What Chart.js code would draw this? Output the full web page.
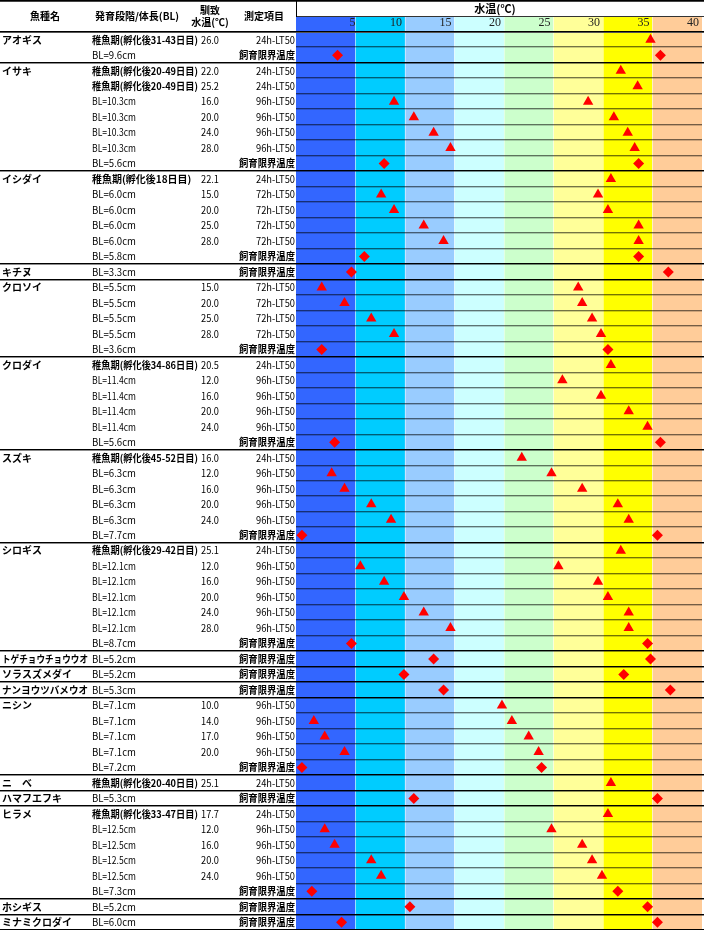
<!DOCTYPE html>
<html lang="ja">
<head>
<meta charset="utf-8">
<script src="https://cdn.jsdelivr.net/npm/chart.js@4.4.1/dist/chart.umd.min.js"></script>
<style>
  html, body { margin: 0; padding: 0; background: #fff; }
  #wrap { width: 704px; height: 930px; }
</style>
</head>
<body>
<div id="wrap"><canvas id="chart" width="704" height="930"></canvas></div>
<script>
// one entry per table row, top to bottom
const species = [
  'アオギス', '',
  'イサキ', '', '', '', '', '', '',
  'イシダイ', '', '', '', '', '',
  'キチヌ',
  'クロソイ', '', '', '', '',
  'クロダイ', '', '', '', '', '',
  'スズキ', '', '', '', '', '',
  'シロギス', '', '', '', '', '', '',
  'トゲチョウチョウウオ',
  'ソラスズメダイ',
  'ナンヨウツバメウオ',
  'ニシン', '', '', '', '',
  'ニ　ベ',
  'ハマフエフキ',
  'ヒラメ', '', '', '', '', '',
  'ホシギス',
  'ミナミクロダイ'
];

const stages = [
  '稚魚期(孵化後31-43日目)', 'BL=9.6cm',
  '稚魚期(孵化後20-49日目)', '稚魚期(孵化後20-49日目)', 'BL=10.3cm', 'BL=10.3cm', 'BL=10.3cm', 'BL=10.3cm', 'BL=5.6cm',
  '稚魚期(孵化後18日目)', 'BL=6.0cm', 'BL=6.0cm', 'BL=6.0cm', 'BL=6.0cm', 'BL=5.8cm',
  'BL=3.3cm',
  'BL=5.5cm', 'BL=5.5cm', 'BL=5.5cm', 'BL=5.5cm', 'BL=3.6cm',
  '稚魚期(孵化後34-86日目)', 'BL=11.4cm', 'BL=11.4cm', 'BL=11.4cm', 'BL=11.4cm', 'BL=5.6cm',
  '稚魚期(孵化後45-52日目)', 'BL=6.3cm', 'BL=6.3cm', 'BL=6.3cm', 'BL=6.3cm', 'BL=7.7cm',
  '稚魚期(孵化後29-42日目)', 'BL=12.1cm', 'BL=12.1cm', 'BL=12.1cm', 'BL=12.1cm', 'BL=12.1cm', 'BL=8.7cm',
  'BL=5.2cm',
  'BL=5.2cm',
  'BL=5.3cm',
  'BL=7.1cm', 'BL=7.1cm', 'BL=7.1cm', 'BL=7.1cm', 'BL=7.2cm',
  '稚魚期(孵化後20-40日目)',
  'BL=5.3cm',
  '稚魚期(孵化後33-47日目)', 'BL=12.5cm', 'BL=12.5cm', 'BL=12.5cm', 'BL=12.5cm', 'BL=7.3cm',
  'BL=5.2cm',
  'BL=6.0cm'
];

const acclimTemps = [
  26.0, null,
  22.0, 25.2, 16.0, 20.0, 24.0, 28.0, null,
  22.1, 15.0, 20.0, 25.0, 28.0, null,
  null,
  15.0, 20.0, 25.0, 28.0, null,
  20.5, 12.0, 16.0, 20.0, 24.0, null,
  16.0, 12.0, 16.0, 20.0, 24.0, null,
  25.1, 12.0, 16.0, 20.0, 24.0, 28.0, null,
  null,
  null,
  null,
  10.0, 14.0, 17.0, 20.0, null,
  25.1,
  null,
  17.7, 12.0, 16.0, 20.0, 24.0, null,
  null,
  null
];

const testItems = [
  '24h-LT50', '飼育限界温度',
  '24h-LT50', '24h-LT50', '96h-LT50', '96h-LT50', '96h-LT50', '96h-LT50', '飼育限界温度',
  '24h-LT50', '72h-LT50', '72h-LT50', '72h-LT50', '72h-LT50', '飼育限界温度',
  '飼育限界温度',
  '72h-LT50', '72h-LT50', '72h-LT50', '72h-LT50', '飼育限界温度',
  '24h-LT50', '96h-LT50', '96h-LT50', '96h-LT50', '96h-LT50', '飼育限界温度',
  '24h-LT50', '96h-LT50', '96h-LT50', '96h-LT50', '96h-LT50', '飼育限界温度',
  '24h-LT50', '96h-LT50', '96h-LT50', '96h-LT50', '96h-LT50', '96h-LT50', '飼育限界温度',
  '飼育限界温度',
  '飼育限界温度',
  '飼育限界温度',
  '96h-LT50', '96h-LT50', '96h-LT50', '96h-LT50', '飼育限界温度',
  '24h-LT50',
  '飼育限界温度',
  '24h-LT50', '96h-LT50', '96h-LT50', '96h-LT50', '96h-LT50', '飼育限界温度',
  '飼育限界温度',
  '飼育限界温度'
];

// lower / upper temperature (°C) for each row, null = no marker
const lowTemps = [
  null, 3.2,
  null, null, 8.9, 10.9, 12.9, 14.6, 7.9,
  null, 7.6, 8.9, 11.9, 13.9, 5.9,
  4.6,
  1.6, 3.9, 6.6, 8.9, 1.6,
  null, null, null, null, null, 2.9,
  null, 2.6, 3.9, 6.6, 8.6, -0.4,
  null, 5.5, 7.9, 9.9, 11.9, 14.6, 4.6,
  12.9,
  9.9,
  13.9,
  null, 0.8, 1.9, 3.9, -0.4,
  null,
  10.9,
  null, 1.9, 2.9, 6.6, 7.6, 0.6,
  10.5,
  3.6
];

const highTemps = [
  34.8, 35.8,
  31.8, 33.5, 28.5, 31.1, 32.5, 33.2, 33.6,
  30.8, 29.5, 30.5, 33.6, 33.6, 33.6,
  36.6,
  27.5, 27.9, 28.9, 29.8, 30.5,
  30.8, 25.9, 29.8, 32.6, 34.5, 35.8,
  21.8, 24.8, 27.9, 31.5, 32.6, 35.5,
  31.8, 25.5, 29.5, 30.5, 32.6, 32.6, 34.5,
  34.8,
  32.1,
  36.8,
  19.8, 20.8, 22.5, 23.5, 23.8,
  30.8,
  35.5,
  30.5, 24.8, 27.9, 28.9, 29.9, 31.5,
  34.5,
  35.5
];

const tickValues = [5, 10, 15, 20, 25, 30, 35, 40];
const bandEdges = [-1, 5, 10, 15, 20, 25, 30, 35, 40];
const bandColors = ['#3366ff', '#00ccff', '#99ccff', '#ccffff', '#ccffcc', '#ffff99', '#ffff00', '#ffcc99'];

const LIMIT = '飼育限界温度';
const FONT = '"Noto Sans CJK JP", "Noto Sans", sans-serif';

// build marker points from the arrays
const lt50Points = [];
const limitPoints = [];
testItems.forEach((item, i) => {
  const target = item === LIMIT ? limitPoints : lt50Points;
  if (lowTemps[i] !== null) target.push({ x: lowTemps[i], y: i });
  if (highTemps[i] !== null) target.push({ x: highTemps[i], y: i });
});

function drawText(ctx, str, x, y, align, font, maxW) {
  ctx.font = font;
  ctx.textAlign = align;
  ctx.textBaseline = 'middle';
  if (maxW) ctx.fillText(str, x, y, maxW);
  else ctx.fillText(str, x, y);
}

function hLine(ctx, x0, x1, y, color) {
  ctx.fillStyle = color;
  ctx.fillRect(x0, y, x1 - x0, 1);
}

const tablePlugin = {
  id: 'tablePlugin',
  beforeDraw(chart) {
    const { ctx, chartArea, scales } = chart;
    const xs = scales.x;
    ctx.save();
    ctx.fillStyle = '#fff';
    ctx.fillRect(0, 0, chart.width, chart.height);
    // temperature bands (header strip + plot)
    for (let i = 0; i < bandColors.length; i++) {
      const x0 = xs.getPixelForValue(bandEdges[i]);
      const x1 = xs.getPixelForValue(bandEdges[i + 1]);
      ctx.fillStyle = bandColors[i];
      ctx.fillRect(x0, 17, x1 - x0, chartArea.bottom - 17);
    }
    ctx.fillStyle = 'rgba(255,255,255,0.45)';
    for (let i = 1; i < bandEdges.length - 1; i++) {
      const px = Math.round(xs.getPixelForValue(bandEdges[i]));
      ctx.fillRect(px, 17, 1, chartArea.bottom - 17);
    }
    ctx.restore();
  },
  beforeDatasetsDraw(chart) {
    const { ctx, chartArea, scales } = chart;
    const ys = scales.y;
    ctx.save();
    for (let i = 1; i < species.length; i++) {
      const py = Math.round(ys.getPixelForValue(i - 0.5)) - 1;
      if (species[i] !== '') {
        hLine(ctx, 0, chart.width, py, '#000');
        hLine(ctx, 0, chart.width, py + 1, 'rgba(0,0,0,0.45)');
      } else {
        hLine(ctx, chartArea.left, chartArea.right, py, 'rgba(0,0,0,0.55)');
        hLine(ctx, chartArea.left, chartArea.right, py + 1, 'rgba(0,0,0,0.2)');
      }
    }
    ctx.restore();
  },
  afterDraw(chart) {
    const { ctx, chartArea, scales } = chart;
    const ys = scales.y;
    ctx.save();

    // header frame
    hLine(ctx, 0, chart.width, 0, '#000');
    hLine(ctx, 0, chart.width, 1, '#444');
    hLine(ctx, chartArea.left, chart.width, 16, '#333');
    hLine(ctx, 0, chart.width, 31, '#000');
    hLine(ctx, 0, chart.width, 32, '#555');
    ctx.fillStyle = '#000';
    ctx.fillRect(chartArea.left, 0, 1, 17);
    hLine(ctx, 0, chart.width, chart.height - 1, '#000');

    ctx.fillStyle = '#000';
    drawText(ctx, '水温(℃)', (chartArea.left + chartArea.right) / 2 - 4, 9, 'center', 'bold 11px ' + FONT);
    drawText(ctx, '魚種名', 45, 16, 'center', 'bold 10px ' + FONT);
    drawText(ctx, '発育段階/体長(BL)', 137, 16, 'center', 'bold 10px ' + FONT);
    drawText(ctx, '馴致', 210, 10, 'center', 'bold 10px ' + FONT);
    drawText(ctx, '水温(℃)', 210, 22, 'center', 'bold 10px ' + FONT);
    drawText(ctx, '測定項目', 264, 16, 'center', 'bold 10px ' + FONT);

    // table body
    species.forEach((name, i) => {
      const py = ys.getPixelForValue(i);
      if (name) drawText(ctx, name, 2, py, 'left', 'bold 10px ' + FONT, 86);
      const st = stages[i];
      if (st.startsWith('稚魚期')) drawText(ctx, st, 92, py, 'left', 'bold 10px ' + FONT, 106);
      else drawText(ctx, st, 92, py, 'left', '10px ' + FONT, 44);
      if (acclimTemps[i] !== null) drawText(ctx, acclimTemps[i].toFixed(1), 219, py, 'right', '10px ' + FONT, 18);
      if (testItems[i] === LIMIT) drawText(ctx, testItems[i], 295, py, 'right', 'bold 10px ' + FONT, 56);
      else drawText(ctx, testItems[i], 295, py, 'right', '10px ' + FONT, 39);
    });
    ctx.restore();
  }
};

new Chart(document.getElementById('chart'), {
  type: 'scatter',
  data: {
    datasets: [
      {
        label: 'LT50',
        data: lt50Points,
        pointStyle: 'triangle',
        pointRadius: 6,
        backgroundColor: '#ff0000',
        borderColor: '#ff0000',
        borderWidth: 0
      },
      {
        label: LIMIT,
        data: limitPoints,
        pointStyle: 'rectRot',
        pointRadius: 5.5,
        backgroundColor: '#ff0000',
        borderColor: '#ff0000',
        borderWidth: 0
      }
    ]
  },
  options: {
    responsive: false,
    animation: false,
    devicePixelRatio: 1,
    layout: { autoPadding: false, padding: { left: 296, top: 17, right: 0, bottom: 0 } },
    plugins: {
      legend: { display: false },
      tooltip: { enabled: false },
      title: { display: false }
    },
    scales: {
      x: {
        type: 'linear',
        position: 'top',
        min: -1,
        max: 40,
        grid: { display: false, drawTicks: false },
        border: { display: false },
        afterBuildTicks: (scale) => { scale.ticks = tickValues.map(v => ({ value: v })); },
        afterFit: (scale) => { scale.height = 15; },
        ticks: {
          align: 'end',
          padding: 2,
          autoSkip: false,
          maxRotation: 0,
          color: '#222',
          font: { family: '"Liberation Serif", serif', size: 12 },
          // trailing space keeps each label just left of its band edge
          callback: (v) => (v === 5 ? '5' : v + ' ')
        }
      },
      y: {
        type: 'linear',
        display: false,
        reverse: true,
        min: -0.5,
        max: species.length - 0.5
      }
    }
  },
  plugins: [tablePlugin]
});
</script>
</body>
</html>
